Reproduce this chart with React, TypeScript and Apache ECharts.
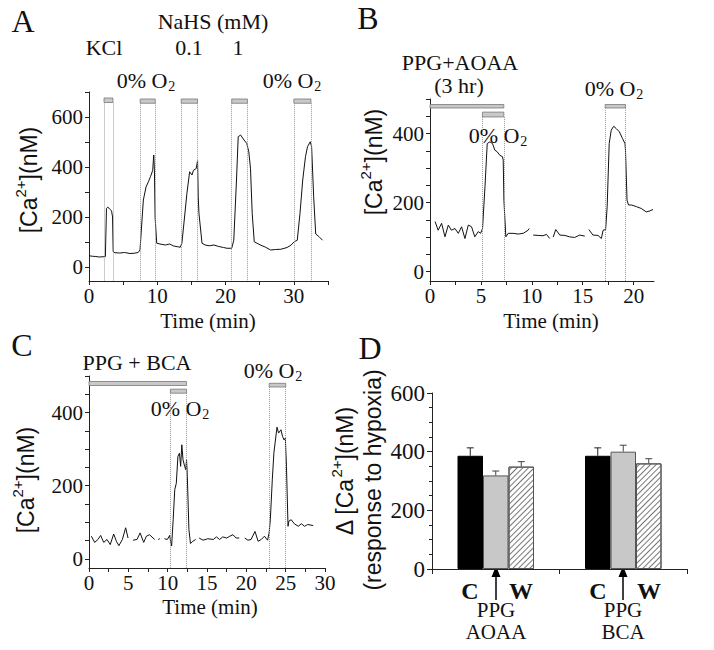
import React, { useEffect, useRef } from 'react';
import * as echarts from 'echarts';

// ---------- Panel A data ----------
const A_TIME = [0, 0.5, 1, 1.5, 2.06, 2.4, 2.56, 2.75, 3.0, 3.3, 3.45, 3.54, 3.8, 4.5, 5.2, 6.0, 6.6, 7.2, 7.47, 7.96, 8.35, 8.7, 9.0, 9.33, 9.48, 9.58, 9.68, 9.92, 10.4, 11.2, 11.8, 12.4, 13.0, 13.36, 13.6, 13.95, 14.34, 14.74, 15.08, 15.3, 15.7, 15.9, 16.0, 16.1, 16.55, 17.0, 17.6, 18.3, 19.0, 19.7, 20.2, 20.9, 21.2, 21.6, 21.85, 22.2, 22.7, 23.1, 23.4, 23.65, 23.9, 24.2, 25.1, 25.8, 26.6, 27.3, 28.1, 29.0, 29.6, 30.05, 30.5, 30.9, 31.3, 31.7, 32.0, 32.4, 32.6, 32.9, 33.2, 33.7, 34.2];
const A_CA = [45, 43, 42, 40, 41, 42, 235, 240, 232, 225, 200, 61, 57, 56, 58, 54, 55, 58, 68, 268, 320, 341, 361, 387, 448, 390, 200, 95, 92, 88, 92, 84, 81, 79, 95, 188, 295, 381, 368, 387, 394, 425, 281, 215, 95, 88, 85, 88, 82, 78, 75, 75, 107, 348, 521, 528, 508, 495, 461, 395, 215, 101, 88, 80, 68, 70, 71, 78, 88, 101, 107, 215, 348, 441, 481, 501, 481, 281, 132, 121, 107];
const A_BAR_START = [2.2, 7.5, 13.5, 20.9, 30.0];
const A_BAR_END = [3.5, 9.7, 15.9, 23.2, 32.5];
const A_BAR_LOW = [658, 655, 655, 655, 655];
const A_BAR_HIGH = [676, 672, 672, 672, 672];

// ---------- Panel B data ----------
const B_TIME = [0.5, 0.8, 1.14, 1.47, 1.8, 2.1, 2.45, 2.78, 3.1, 3.43, 3.76, 4.08, 4.4, 4.74, 4.97, 5.16, 5.4, 5.62, 5.88, 6.14, 6.37, 6.6, 6.86, 7.12, 7.19, 7.26, 7.45, 7.68, 8.17, 8.66, 9.15, 9.64, 9.74, 9.9, 10.13, 10.62, 11.1, 11.44, 11.76, 11.9, 12.1, 12.35, 12.75, 13.24, 13.7, 14.2, 14.7, 15.2, 15.4, 15.6, 16.0, 16.5, 16.83, 17.0, 17.25, 17.4, 17.6, 17.8, 18.04, 18.3, 18.6, 18.9, 19.15, 19.2, 19.35, 19.5, 19.8, 20.3, 20.75, 21.24, 21.6, 21.9];
const B_CA = [145, 120, 140, 101, 135, 120, 125, 111, 130, 96, 135, 130, 101, 116, 111, 125, 246, 371, 376, 371, 352, 347, 337, 333, 323, 207, 101, 111, 111, 109, 111, 120, 125, null, 106, 105, 104, 108, 96, null, 100, 122, 106, 105, 101, 99, 106, 103, null, 122, 106, 105, 96, 120, 122, 188, 371, 410, 421, 414, 405, 386, 371, 352, 207, 193, 193, 188, 183, 173, 176, 180];
const B_BAR_START = [0, 5.15, 17.2];
const B_BAR_END = [7.25, 7.25, 19.2];
const B_BAR_LOW = [474, 448, 474];
const B_BAR_HIGH = [484, 462, 484];
const B_DOTS = [5.15, 7.25, 17.2, 19.2];
const B_DOT_TOP = [448, 448, 474, 474];

// ---------- Panel C data ----------
const C_TIME = [0.3, 0.72, 1.14, 1.48, 1.87, 2.29, 2.7, 3.14, 3.48, 3.8, 4.24, 4.66, 4.96, 5.2, 5.6, 6.1, 6.5, 6.95, 7.3, 7.7, 8.14, 8.35, 8.5, 8.8, 9.0, 9.2, 9.6, 9.96, 10.25, 10.4, 10.5, 10.7, 10.9, 11.1, 11.3, 11.5, 11.65, 11.8, 11.95, 12.16, 12.3, 12.4, 12.5, 12.7, 12.9, 13.2, 13.56, 13.8, 14.0, 14.5, 15.1, 15.8, 16.2, 16.6, 17.0, 17.5, 17.9, 18.3, 18.7, 19.1, 19.4, 19.8, 20.2, 20.6, 21.1, 21.5, 21.9, 22.3, 22.7, 22.9, 23.05, 23.3, 23.5, 23.7, 23.9, 24.1, 24.4, 24.6, 24.8, 24.96, 25.1, 25.3, 25.4, 25.7, 26.1, 26.6, 27.0, 27.4, 27.8, 28.5];
const C_CA = [62, 45, 53, 64, 45, 53, 39, 68, 48, 36, 53, 85, 57, null, 51, 53, 71, 45, 62, 66, 57, 53, null, 53, 55, null, 55, 53, 64, 44, 35, 107, 189, 207, 280, 289, 253, 312, 271, 253, 244, 271, 225, 80, 42, 48, 53, null, 57, 51, 55, 53, 60, 53, 60, 57, 62, 66, 57, 57, null, 57, 51, 53, 75, 48, 53, 62, 51, 71, 107, 216, 289, 325, 360, 344, 353, 335, 325, 330, 253, 89, 103, 107, 96, 89, 96, 89, 94, 91];
const C_BAR_START = [0, 10.35, 22.9];
const C_BAR_END = [12.4, 12.4, 25.0];
const C_BAR_LOW = [474, 453, 470];
const C_BAR_HIGH = [485, 464, 480];
const C_DOTS = [10.35, 12.4, 22.9, 25.0];
const C_DOT_TOP = [453, 453, 470, 470];

// ---------- Panel D data ----------
const D_GROUPS = ['PPG AOAA', 'PPG BCA'];
const D_CONTROL = [386, 386];
const D_PPG = [319, 400];
const D_WASH = [349, 360];
const D_CONTROL_ERR = [27, 27];
const D_PPG_ERR = [15, 22];
const D_WASH_ERR = [17, 16];

const SERIF = '"Liberation Serif", "Times New Roman", serif';
const SANS = '"Liberation Sans", Arial, sans-serif';
const AXIS_COLOR = '#222';

let measureCtx: CanvasRenderingContext2D | null = null;
function tw(text: string, size: number, family: string) {
  if (!measureCtx) measureCtx = document.createElement('canvas').getContext('2d');
  if (!measureCtx) return text.length * size * 0.5;
  measureCtx.font = `${size}px ${family}`;
  return measureCtx.measureText(text).width;
}

function zip(t: number[], v: (number | null)[]) {
  return t.map((x, i) => [x, v[i] === null ? '-' : v[i]]);
}

function range(a: number, b: number, s: number) {
  const out: number[] = [];
  for (let x = a; x <= b + 1e-9; x += s) out.push(Math.round(x * 100) / 100);
  return out;
}

function valueAxis(gridIndex: number, min: number, max: number, labels: number[], ticks: number[], fontSize: number) {
  return {
    type: 'value',
    gridIndex,
    min,
    max,
    axisLine: { show: true, onZero: false, lineStyle: { color: AXIS_COLOR, width: 1 } },
    axisTick: { show: true, customValues: ticks, length: 4, lineStyle: { color: AXIS_COLOR, width: 1 } },
    axisLabel: { customValues: labels, fontFamily: SERIF, fontSize, color: '#111', margin: 6, lineHeight: 18 },
    splitLine: { show: false },
  };
}

function barAreas(s: number[], e: number[], lo: number[], hi: number[]) {
  return s.map((x, i) => [
    { xAxis: x, yAxis: hi[i] },
    { xAxis: e[i], yAxis: lo[i] },
  ]);
}

function dotLines(xs: number[], tops: number[], bottom: number) {
  return xs.map((x, i) => [{ coord: [x, tops[i]] }, { coord: [x, bottom] }]);
}

function traceSeries(idx: number, data: any[], areas: any[], lines: any[]) {
  return {
    type: 'line',
    xAxisIndex: idx,
    yAxisIndex: idx,
    data,
    showSymbol: false,
    symbol: 'none',
    connectNulls: false,
    lineStyle: { color: '#111', width: 1 },
    silent: true,
    z: 3,
    markArea: {
      silent: true,
      data: areas,
      itemStyle: { color: '#c9c9c9', borderColor: '#777', borderWidth: 0.8 },
      label: { show: false },
    },
    markLine: {
      silent: true,
      symbol: ['none', 'none'],
      data: lines,
      label: { show: false },
      lineStyle: { color: '#999', width: 1, type: 'dotted' },
    },
  };
}

function txt(x: number, y: number, text: string, fontSize: number, extra: any = {}) {
  return {
    type: 'text',
    x,
    y,
    silent: true,
    style: {
      text,
      fontFamily: SERIF,
      fontSize,
      lineHeight: fontSize - 2,
      fill: '#111',
      align: 'center',
      verticalAlign: 'middle',
      ...extra,
    },
  };
}

// "0% O" with subscript 2, centred on (cx, cy)
function o2(cx: number, cy: number) {
  const w1 = tw('0% O', 22, SERIF);
  const w2 = tw('2', 14, SERIF);
  const left = cx - (w1 + w2 + 1) / 2;
  return {
    type: 'group',
    silent: true,
    children: [
      { type: 'text', x: left, y: cy, style: { text: '0% O', fontFamily: SERIF, fontSize: 22, lineHeight: 20, fill: '#111', align: 'left', verticalAlign: 'middle' } },
      { type: 'text', x: left + w1 + 1, y: cy + 6, style: { text: '2', fontFamily: SERIF, fontSize: 14, lineHeight: 13, fill: '#111', align: 'left', verticalAlign: 'middle' } },
    ],
  };
}

// rotated "[Ca2+](nM)" with superscript, centred on (cx, cy)
function caName(cx: number, cy: number, prefix = '') {
  const FS = 23, SS = 15;
  const p1 = prefix + '[Ca', p2 = '2+', p3 = '](nM)';
  const w1 = tw(p1, FS, SANS), w2 = tw(p2, SS, SANS), w3 = tw(p3, FS, SANS);
  const left = -(w1 + w2 + w3) / 2;
  const base = { fontFamily: SANS, fill: '#111', align: 'left', verticalAlign: 'middle' };
  return {
    type: 'group',
    x: cx,
    y: cy,
    rotation: Math.PI / 2,
    silent: true,
    children: [
      { type: 'text', x: left, y: 0, style: { ...base, text: p1, fontSize: FS, lineHeight: FS - 2 } },
      { type: 'text', x: left + w1, y: -9, style: { ...base, text: p2, fontSize: SS, lineHeight: SS - 2 } },
      { type: 'text', x: left + w1 + w2, y: 0, style: { ...base, text: p3, fontSize: FS, lineHeight: FS - 2 } },
    ],
  };
}

function arrow(x: number) {
  return {
    type: 'group',
    silent: true,
    children: [
      { type: 'line', shape: { x1: x, y1: 600, x2: x, y2: 574 }, style: { stroke: '#000', lineWidth: 1.5 } },
      { type: 'polygon', shape: { points: [[x, 566], [x - 4.5, 577], [x + 4.5, 577]] }, style: { fill: '#000' } },
    ],
  };
}

export default function App() {
  const ref = useRef<HTMLDivElement>(null);
  useEffect(() => {
    if (!ref.current) return;
    const chart = echarts.init(ref.current, undefined, { renderer: 'svg' });

    const errData = (vals: number[], errs: number[], k: number) => vals.map((v, i) => [i, v, errs[i], k]);

    const option: any = {
      animation: false,
      backgroundColor: '#fff',
      grid: [
        { left: 89, top: 92, width: 239, height: 189 },
        { left: 430, top: 99, width: 224, height: 182 },
        { left: 89, top: 376, width: 236, height: 192 },
        { left: 432, top: 393, width: 255, height: 176 },
      ],
      xAxis: [
        valueAxis(0, 0, 35, [0, 10, 20, 30], range(0, 35, 5), 21),
        valueAxis(1, 0, 22, [0, 5, 10, 15, 20], range(0, 20, 2.5), 21),
        valueAxis(2, 0, 30, [0, 5, 10, 15, 20, 25, 30], range(0, 30, 2.5), 21),
        {
          type: 'category',
          gridIndex: 3,
          data: D_GROUPS,
          axisLine: { show: true, lineStyle: { color: AXIS_COLOR, width: 1 } },
          axisTick: { show: true, length: 5, lineStyle: { color: AXIS_COLOR } },
          axisLabel: { show: false },
          splitLine: { show: false },
        },
      ],
      yAxis: [
        valueAxis(0, -56, 700, [0, 200, 400, 600], range(0, 700, 100), 21),
        valueAxis(1, -27, 500, [0, 200, 400], range(0, 500, 50), 21),
        valueAxis(2, -25, 500, [0, 200, 400], range(0, 500, 50), 21),
        {
          type: 'value',
          gridIndex: 3,
          min: 0,
          max: 600,
          interval: 200,
          axisLine: { show: true, lineStyle: { color: AXIS_COLOR, width: 1 } },
          axisTick: { show: true, length: 5, lineStyle: { color: AXIS_COLOR } },
          minorTick: { show: true, splitNumber: 4, length: 3, lineStyle: { color: AXIS_COLOR } },
          axisLabel: { fontFamily: SERIF, fontSize: 23, color: '#111', margin: 7, lineHeight: 20 },
          splitLine: { show: false },
          minorSplitLine: { show: false },
        },
      ],
      series: [
        traceSeries(0, zip(A_TIME, A_CA),
          barAreas(A_BAR_START, A_BAR_END, A_BAR_LOW, A_BAR_HIGH),
          dotLines(
            A_BAR_START.flatMap((s, i) => [s, A_BAR_END[i]]),
            A_BAR_LOW.flatMap((l) => [l, l]),
            -56)),
        traceSeries(1, zip(B_TIME, B_CA),
          barAreas(B_BAR_START, B_BAR_END, B_BAR_LOW, B_BAR_HIGH),
          dotLines(B_DOTS, B_DOT_TOP, -27)),
        traceSeries(2, zip(C_TIME, C_CA),
          barAreas(C_BAR_START, C_BAR_END, C_BAR_LOW, C_BAR_HIGH),
          dotLines(C_DOTS, C_DOT_TOP, -25)),
        {
          type: 'bar', name: 'C', xAxisIndex: 3, yAxisIndex: 3, data: D_CONTROL,
          barWidth: 25.5, barGap: '0%',
          itemStyle: { color: '#000', borderColor: '#000', borderWidth: 1 },
          silent: true,
        },
        {
          type: 'bar', name: 'PPG', xAxisIndex: 3, yAxisIndex: 3, data: D_PPG,
          barWidth: 25.5, barGap: '0%',
          itemStyle: { color: '#c8c8c8', borderColor: '#555', borderWidth: 1 },
          silent: true,
        },
        {
          type: 'bar', name: 'W', xAxisIndex: 3, yAxisIndex: 3, data: D_WASH,
          barWidth: 25.5, barGap: '0%',
          itemStyle: {
            color: '#fff', borderColor: '#555', borderWidth: 1,
            decal: { symbol: 'rect', symbolSize: 1, color: '#777', backgroundColor: '#fff', dashArrayX: [1, 0], dashArrayY: [1, 3], rotation: -Math.PI / 4 },
          },
          silent: true,
        },
        {
          type: 'custom',
          xAxisIndex: 3,
          yAxisIndex: 3,
          silent: true,
          z: 5,
          data: [...errData(D_CONTROL, D_CONTROL_ERR, 0), ...errData(D_PPG, D_PPG_ERR, 1), ...errData(D_WASH, D_WASH_ERR, 2)],
          renderItem: (params: any, api: any) => {
            const c = api.value(0), v = api.value(1), e = api.value(2), k = api.value(3);
            const p1 = api.coord([c, v]);
            const p2 = api.coord([c, v + e]);
            const bw = api.size([1, 0])[0] * 0.2;
            const x = p1[0] + (k - 1) * bw;
            const col = k === 0 ? '#222' : '#444';
            return {
              type: 'group',
              children: [
                { type: 'line', shape: { x1: x, y1: p1[1], x2: x, y2: p2[1] }, style: { stroke: col, lineWidth: 1 } },
                { type: 'line', shape: { x1: x - 3.5, y1: p2[1], x2: x + 3.5, y2: p2[1] }, style: { stroke: col, lineWidth: 1 } },
              ],
            };
          },
        },
      ],
      graphic: [
        // Panel A
        txt(23, 21, 'A', 32),
        txt(213, 21, 'NaHS (mM)', 22),
        txt(104, 47, 'KCl', 22),
        txt(189, 47, '0.1', 22),
        txt(238, 47, '1', 22),
        o2(146, 80),
        o2(292, 80),
        caName(29, 180),
        txt(208, 321, 'Time (min)', 21),
        // Panel B
        txt(368, 18, 'B', 32),
        txt(460, 62, 'PPG+AOAA', 22),
        txt(459, 85, '(3 hr)', 22),
        o2(614, 88),
        o2(498, 135),
        caName(374, 162),
        txt(551, 321, 'Time (min)', 21),
        // Panel C
        txt(22, 345, 'C', 32),
        txt(137, 362, 'PPG + BCA', 22),
        o2(273, 370),
        o2(180, 408),
        caName(26, 480),
        txt(210, 607, 'Time (min)', 21),
        // Panel D
        txt(370, 348, 'D', 32),
        caName(345, 471, 'Δ '),
        {
          type: 'text', x: 373, y: 480, rotation: Math.PI / 2, silent: true,
          style: { text: '(response to hypoxia)', fontFamily: SANS, fontSize: 23, lineHeight: 21, fill: '#111', align: 'center', verticalAlign: 'middle' },
        },
        txt(470, 591, 'C', 24, { fontWeight: 'bold' }),
        txt(521, 591, 'W', 24, { fontWeight: 'bold' }),
        txt(598, 591, 'C', 24, { fontWeight: 'bold' }),
        txt(649, 591, 'W', 24, { fontWeight: 'bold' }),
        arrow(496),
        arrow(623),
        txt(496, 610, 'PPG', 21, { lineHeight: 17 }),
        txt(496, 632, 'AOAA', 21, { lineHeight: 17 }),
        txt(623, 610, 'PPG', 21, { lineHeight: 17 }),
        txt(623, 632, 'BCA', 21, { lineHeight: 17 }),
      ],
    };
    chart.setOption(option);
    return () => chart.dispose();
  }, []);

  return (
    <div
      ref={ref}
      style={{ position: 'fixed', left: 0, top: 0, width: 714, height: 650, background: '#fff' }}
    />
  );
}
